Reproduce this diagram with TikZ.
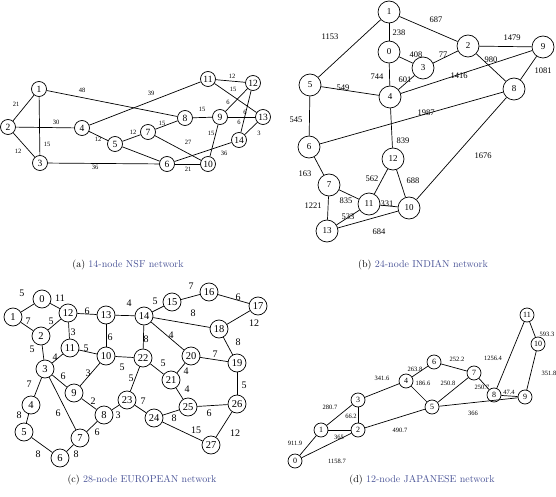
\documentclass[tikz,border=0pt]{standalone}
\usepackage{fontspec}
\usepackage{tikz}
\newfontfamily\grfont{Liberation Serif}
\definecolor{capblue}{RGB}{72,82,150}

\tikzset{
    link/.style={line width=0.7pt},
    nsfnode/.style={circle, draw, line width=0.7pt, inner sep=0pt, minimum size=15pt, font=\grfont\fontsize{9.5}{9.5}\selectfont},
    nsfw/.style={inner sep=0pt, font=\grfont\fontsize{6.5}{6.5}\selectfont},
    indnode/.style={circle, draw, line width=0.7pt, inner sep=0pt, minimum size=22pt, font=\grfont\fontsize{9}{9}\selectfont},
    indw/.style={inner sep=0pt, font=\grfont\fontsize{8.5}{8.5}\selectfont},
    eurnode/.style={circle, draw, line width=0.7pt, inner sep=0pt, minimum size=18pt, font=\grfont\fontsize{10.5}{10.5}\selectfont},
    eurw/.style={inner sep=0pt, font=\grfont\fontsize{10}{10}\selectfont},
    jpnnode/.style={circle, draw, line width=0.7pt, inner sep=0pt, minimum size=14pt, font=\grfont\fontsize{8}{8}\selectfont},
    jpnw/.style={inner sep=0pt, font=\grfont\fontsize{6.5}{6.5}\selectfont},
    subcap/.style={font=\fontsize{10}{12}\selectfont}
}

\begin{document}
\begin{tikzpicture}[x=1pt, y=-1pt]
        \useasboundingbox (0,0) rectangle (556,497);

        % (a) NSF
        \node[nsfnode] (a1) at (39,89) {1};
        \node[nsfnode] (a2) at (8,127) {2};
        \node[nsfnode] (a3) at (40,163) {3};
        \node[nsfnode] (a4) at (82,128) {4};
        \node[nsfnode] (a5) at (115,144) {5};
        \node[nsfnode] (a6) at (167,164) {6};
        \node[nsfnode] (a7) at (148,132) {7};
        \node[nsfnode] (a8) at (185,118) {8};
        \node[nsfnode] (a9) at (220,117) {9};
        \node[nsfnode] (a10) at (208,164) {10};
        \node[nsfnode] (a11) at (208,79) {11};
        \node[nsfnode] (a12) at (253,83) {12};
        \node[nsfnode] (a13) at (263,117) {13};
        \node[nsfnode] (a14) at (239,140) {14};

        \draw[link] (a1) -- (a2);
        \draw[link] (a1) -- (a3);
        \draw[link] (a2) -- (a3);
        \draw[link] (a1) -- (a8);
        \draw[link] (a2) -- (a4);
        \draw[link] (a3) -- (a6);
        \draw[link] (a4) -- (a11);
        \draw[link] (a4) -- (a5);
        \draw[link] (a5) -- (a7);
        \draw[link] (a5) -- (a6);
        \draw[link] (a7) -- (a8);
        \draw[link] (a7) -- (a10);
        \draw[link] (a8) -- (a9);
        \draw[link] (a9) -- (a10);
        \draw[link] (a9) -- (a12);
        \draw[link] (a9) -- (a13);
        \draw[link] (a11) -- (a12);
        \draw[link] (a11) -- (a13);
        \draw[link] (a12) -- (a14);
        \draw[link] (a13) -- (a14);
        \draw[link] (a6) -- (a14);
        \draw[link] (a6) -- (a10);

        \node[nsfw] (aw1) at (16,104) {21};
        \node[nsfw] (aw2) at (47,144) {15};
        \node[nsfw] (aw3) at (18,151) {12};
        \node[nsfw] (aw4) at (82,90) {48};
        \node[nsfw] (aw5) at (56,122) {30};
        \node[nsfw] (aw6) at (151,93) {39};
        \node[nsfw] (aw7) at (98,139) {12};
        \node[nsfw] (aw8) at (133,132) {12};
        \node[nsfw] (aw9) at (162,123) {15};
        \node[nsfw] (aw10) at (202,109) {15};
        \node[nsfw] (aw11) at (188,142) {27};
        \node[nsfw] (aw12) at (211,133) {15};
        \node[nsfw] (aw13) at (95,167) {36};
        \node[nsfw] (aw14) at (188,169) {21};
        \node[nsfw] (aw15) at (224,153) {36};
        \node[nsfw] (aw16) at (232,76) {12};
        \node[nsfw] (aw17) at (233,89) {15};
        \node[nsfw] (aw18) at (228,102) {6};
        \node[nsfw] (aw19) at (245,112) {6};
        \node[nsfw] (aw20) at (239,122) {6};
        \node[nsfw] (aw21) at (259,133) {3};

        \node[subcap] (acap) at (128,265) {(a) \textcolor{capblue}{14-node NSF network}};

        % (b) INDIAN
        \node[indnode] (b1) at (389,12) {1};
        \node[indnode] (b0) at (389,52) {0};
        \node[indnode] (b2) at (468,46) {2};
        \node[indnode] (b3) at (423,68) {3};
        \node[indnode] (b4) at (390,97) {4};
        \node[indnode] (b5) at (310,85) {5};
        \node[indnode] (b9) at (543,47) {9};
        \node[indnode] (b8) at (514,89) {8};
        \node[indnode] (b6) at (309,147) {6};
        \node[indnode] (b12) at (393,159) {12};
        \node[indnode] (b7) at (329,185) {7};
        \node[indnode] (b11) at (369,204) {11};
        \node[indnode] (b10) at (409,208) {10};
        \node[indnode] (b13) at (327,231) {13};

        \draw[link] (b1) -- (b0);
        \draw[link] (b1) -- (b5);
        \draw[link] (b1) -- (b2);
        \draw[link] (b0) -- (b3);
        \draw[link] (b0) -- (b4);
        \draw[link] (b3) -- (b2);
        \draw[link] (b3) -- (b4);
        \draw[link] (b2) -- (b9);
        \draw[link] (b2) -- (b8);
        \draw[link] (b9) -- (b8);
        \draw[link] (b9) -- (b4);
        \draw[link] (b5) -- (b4);
        \draw[link] (b5) -- (b6);
        \draw[link] (b8) -- (b6);
        \draw[link] (b4) -- (b12);
        \draw[link] (b8) -- (b10);
        \draw[link] (b6) -- (b7);
        \draw[link] (b12) -- (b11);
        \draw[link] (b12) -- (b10);
        \draw[link] (b7) -- (b11);
        \draw[link] (b11) -- (b10);
        \draw[link] (b7) -- (b13);
        \draw[link] (b11) -- (b13);
        \draw[link] (b13) -- (b10);

        \node[indw] (bw1) at (399,33) {238};
        \node[indw] (bw2) at (330,37) {1153};
        \node[indw] (bw3) at (436,20) {687};
        \node[indw] (bw4) at (416,55) {408};
        \node[indw] (bw5) at (443,55) {77};
        \node[indw] (bw6) at (512,38) {1479};
        \node[indw] (bw7) at (491,60) {980};
        \node[indw] (bw8) at (543,71) {1081};
        \node[indw] (bw9) at (377,77) {744};
        \node[indw] (bw10) at (405,80) {601};
        \node[indw] (bw11) at (459,76) {1416};
        \node[indw] (bw12) at (343,88) {549};
        \node[indw] (bw13) at (296,120) {545};
        \node[indw] (bw14) at (426,113) {1987};
        \node[indw] (bw15) at (403,141) {839};
        \node[indw] (bw16) at (483,156) {1676};
        \node[indw] (bw17) at (305,174) {163};
        \node[indw] (bw18) at (372,179) {562};
        \node[indw] (bw19) at (413,181) {688};
        \node[indw] (bw20) at (346,201) {835};
        \node[indw] (bw21) at (313,206) {1221};
        \node[indw] (bw22) at (387,204) {331};
        \node[indw] (bw23) at (348,217) {533};
        \node[indw] (bw24) at (379,232) {684};

        \node[subcap] (bcap) at (423,265) {(b) \textcolor{capblue}{24-node INDIAN network}};

        % (c) EUROPEAN
        \node[eurnode] (c0) at (42,299) {0};
        \node[eurnode] (c1) at (13,317) {1};
        \node[eurnode] (c12) at (68,313) {12};
        \node[eurnode] (c2) at (41,336) {2};
        \node[eurnode] (c13) at (106,315) {13};
        \node[eurnode] (c14) at (144,316) {14};
        \node[eurnode] (c15) at (172,302) {15};
        \node[eurnode] (c16) at (209,292) {16};
        \node[eurnode] (c17) at (258,306) {17};
        \node[eurnode] (c18) at (219,329) {18};
        \node[eurnode] (c11) at (70,348) {11};
        \node[eurnode] (c10) at (106,356) {10};
        \node[eurnode] (c22) at (143,358) {22};
        \node[eurnode] (c20) at (191,356) {20};
        \node[eurnode] (c19) at (237,363) {19};
        \node[eurnode] (c3) at (45,369) {3};
        \node[eurnode] (c21) at (171,380) {21};
        \node[eurnode] (c9) at (74,393) {9};
        \node[eurnode] (c23) at (127,400) {23};
        \node[eurnode] (c4) at (31,405) {4};
        \node[eurnode] (c25) at (188,407) {25};
        \node[eurnode] (c26) at (237,404) {26};
        \node[eurnode] (c24) at (154,418) {24};
        \node[eurnode] (c8) at (104,415) {8};
        \node[eurnode] (c5) at (24,432) {5};
        \node[eurnode] (c7) at (80,438) {7};
        \node[eurnode] (c6) at (60,458) {6};
        \node[eurnode] (c27) at (211,445) {27};

        \draw[link] (c0) -- (c1);
        \draw[link] (c0) -- (c12);
        \draw[link] (c1) -- (c2);
        \draw[link] (c2) -- (c12);
        \draw[link] (c2) -- (c3);
        \draw[link] (c12) -- (c13);
        \draw[link] (c12) -- (c11);
        \draw[link] (c13) -- (c14);
        \draw[link] (c13) -- (c10);
        \draw[link] (c11) -- (c10);
        \draw[link] (c11) -- (c3);
        \draw[link] (c14) -- (c15);
        \draw[link] (c15) -- (c16);
        \draw[link] (c16) -- (c17);
        \draw[link] (c14) -- (c18);
        \draw[link] (c18) -- (c17);
        \draw[link] (c14) -- (c22);
        \draw[link] (c14) -- (c20);
        \draw[link] (c10) -- (c22);
        \draw[link] (c10) -- (c9);
        \draw[link] (c3) -- (c9);
        \draw[link] (c3) -- (c4);
        \draw[link] (c3) -- (c7);
        \draw[link] (c4) -- (c5);
        \draw[link] (c5) -- (c6);
        \draw[link] (c6) -- (c7);
        \draw[link] (c7) -- (c8);
        \draw[link] (c9) -- (c8);
        \draw[link] (c8) -- (c23);
        \draw[link] (c22) -- (c23);
        \draw[link] (c22) -- (c21);
        \draw[link] (c20) -- (c21);
        \draw[link] (c20) -- (c19);
        \draw[link] (c18) -- (c19);
        \draw[link] (c21) -- (c25);
        \draw[link] (c23) -- (c24);
        \draw[link] (c24) -- (c25);
        \draw[link] (c25) -- (c26);
        \draw[link] (c19) -- (c26);
        \draw[link] (c24) -- (c27);
        \draw[link] (c26) -- (c27);

        \node[eurw] (cw1) at (22,293) {5};
        \node[eurw] (cw2) at (60,298) {11};
        \node[eurw] (cw3) at (28,321) {7};
        \node[eurw] (cw4) at (51,321) {5};
        \node[eurw] (cw5) at (32,349) {5};
        \node[eurw] (cw6) at (87,311) {6};
        \node[eurw] (cw7) at (73,332) {3};
        \node[eurw] (cw8) at (129,303) {4};
        \node[eurw] (cw9) at (155,301) {5};
        \node[eurw] (cw10) at (191,286) {7};
        \node[eurw] (cw11) at (238,297) {6};
        \node[eurw] (cw12) at (193,313) {8};
        \node[eurw] (cw13) at (254,323) {12};
        \node[eurw] (cw14) at (110,337) {6};
        \node[eurw] (cw15) at (86,348) {5};
        \node[eurw] (cw16) at (146,339) {8};
        \node[eurw] (cw17) at (171,335) {4};
        \node[eurw] (cw18) at (238,342) {8};
        \node[eurw] (cw19) at (55,357) {4};
        \node[eurw] (cw20) at (122,367) {5};
        \node[eurw] (cw21) at (163,363) {5};
        \node[eurw] (cw22) at (215,354) {7};
        \node[eurw] (cw23) at (186,371) {4};
        \node[eurw] (cw24) at (63,376) {6};
        \node[eurw] (cw25) at (88,373) {3};
        \node[eurw] (cw26) at (131,378) {5};
        \node[eurw] (cw27) at (29,384) {7};
        \node[eurw] (cw28) at (244,385) {5};
        \node[eurw] (cw29) at (187,389) {4};
        \node[eurw] (cw30) at (93,401) {2};
        \node[eurw] (cw31) at (143,401) {7};
        \node[eurw] (cw32) at (19,415) {8};
        \node[eurw] (cw33) at (58,413) {6};
        \node[eurw] (cw34) at (118,415) {3};
        \node[eurw] (cw35) at (174,418) {8};
        \node[eurw] (cw36) at (209,413) {6};
        \node[eurw] (cw37) at (97,432) {6};
        \node[eurw] (cw38) at (196,430) {15};
        \node[eurw] (cw39) at (235,433) {12};
        \node[eurw] (cw40) at (38,454) {8};
        \node[eurw] (cw41) at (76,454) {8};

        \node[subcap] (ccap) at (142,480) {(c) \textcolor{capblue}{28-node EUROPEAN network}};

        % (d) JAPANESE
        \node[jpnnode] (d0) at (295,461) {0};
        \node[jpnnode] (d1) at (321,430) {1};
        \node[jpnnode] (d2) at (358,430) {2};
        \node[jpnnode] (d3) at (358,400) {3};
        \node[jpnnode] (d4) at (406,381) {4};
        \node[jpnnode] (d5) at (432,407) {5};
        \node[jpnnode] (d6) at (434,362) {6};
        \node[jpnnode] (d7) at (474,373) {7};
        \node[jpnnode] (d8) at (494,395) {8};
        \node[jpnnode] (d9) at (525,397) {9};
        \node[jpnnode] (d10) at (538,344) {10};
        \node[jpnnode] (d11) at (527,315) {11};

        \draw[link] (d0) -- (d1);
        \draw[link] (d0) -- (d2);
        \draw[link] (d1) -- (d2);
        \draw[link] (d1) -- (d3);
        \draw[link] (d3) -- (d2);
        \draw[link] (d3) -- (d4);
        \draw[link] (d4) -- (d6);
        \draw[link] (d4) -- (d5);
        \draw[link] (d6) -- (d7);
        \draw[link] (d7) -- (d5);
        \draw[link] (d7) -- (d8);
        \draw[link] (d8) -- (d9);
        \draw[link] (d8) -- (d11);
        \draw[link] (d11) -- (d10);
        \draw[link] (d10) -- (d9);
        \draw[link] (d5) -- (d9);
        \draw[link] (d2) -- (d5);

        \node[jpnw] (dw1) at (295,443) {911.9};
        \node[jpnw] (dw2) at (337,461) {1158.7};
        \node[jpnw] (dw3) at (339,437) {365};
        \node[jpnw] (dw4) at (330,407) {280.7};
        \node[jpnw] (dw5) at (351,416) {66.2};
        \node[jpnw] (dw6) at (382,378) {341.6};
        \node[jpnw] (dw7) at (415,369) {263.8};
        \node[jpnw] (dw8) at (457,359) {252.2};
        \node[jpnw] (dw9) at (448,383) {250.8};
        \node[jpnw] (dw10) at (423,383) {186.6};
        \node[jpnw] (dw11) at (482,387) {250.7};
        \node[jpnw] (dw12) at (509,392) {47.4};
        \node[jpnw] (dw13) at (493,358) {1256.4};
        \node[jpnw] (dw14) at (547,334) {593.3};
        \node[jpnw] (dw15) at (549,373) {351.8};
        \node[jpnw] (dw16) at (473,413) {366};
        \node[jpnw] (dw17) at (400,430) {490.7};

        \node[subcap] (dcap) at (422,480) {(d) \textcolor{capblue}{12-node JAPANESE network}};
\end{tikzpicture}
\end{document}
